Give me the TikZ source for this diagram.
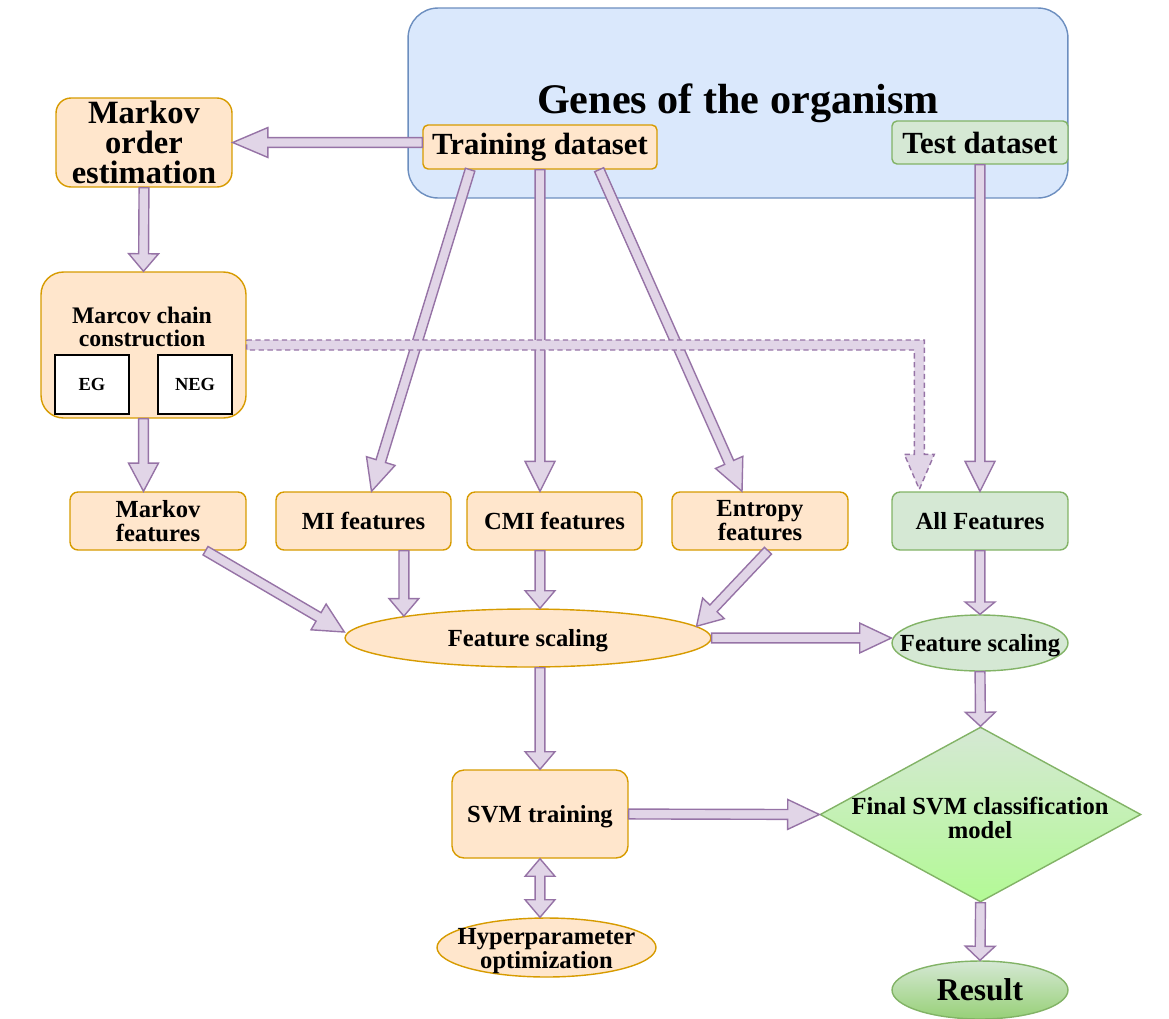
\documentclass[tikz,border=0pt]{standalone}
\usepackage{fontspec}
\setmainfont{Liberation Serif}
\usetikzlibrary{shapes,positioning,calc}

\definecolor{orfill}{HTML}{FFE6CC}
\definecolor{orline}{HTML}{D79B00}
\definecolor{blfill}{HTML}{DAE8FC}
\definecolor{blline}{HTML}{6C8EBF}
\definecolor{grfill}{HTML}{D5E8D4}
\definecolor{grline}{HTML}{82B366}
\definecolor{grbright}{HTML}{B3FA95}
\definecolor{grdark}{HTML}{97D077}
\definecolor{pufill}{HTML}{E1D5E7}
\definecolor{puline}{HTML}{9673A6}

%% hollow block arrow, optional head length
\newcommand{\flexarrow}[3][10pt]{%
\coordinate (fa) at ($(#3)!#1!(#2)$);
\draw[flex] ($(#2)!2.8pt!90:(#3)$) -- ($(fa)!2.8pt!90:(#3)$) -- ($(fa)!8.5pt!90:(#3)$) -- (#3)
 -- ($(fa)!8.5pt!-90:(#3)$) -- ($(fa)!2.8pt!-90:(#3)$) -- ($(#2)!2.8pt!-90:(#3)$) -- cycle;}
%% same, with a head at each end
\newcommand{\flexboth}[3][10pt]{%
\coordinate (fa1) at ($(#2)!#1!(#3)$);
\coordinate (fa2) at ($(#3)!#1!(#2)$);
\draw[flex] (#2) -- ($(fa1)!8.5pt!90:(#3)$) -- ($(fa1)!2.8pt!90:(#3)$) -- ($(fa2)!2.8pt!90:(#3)$) -- ($(fa2)!8.5pt!90:(#3)$) -- (#3)
 -- ($(fa2)!8.5pt!-90:(#3)$) -- ($(fa2)!2.8pt!-90:(#3)$) -- ($(fa1)!2.8pt!-90:(#3)$) -- ($(fa1)!8.5pt!-90:(#3)$) -- cycle;}

\begin{document}
\begin{tikzpicture}
[x=0.02cm, y=-0.02cm,
every node/.style={align=center, inner sep=0pt, line width=0.8pt, font=\bfseries\fontsize{14}{13.6}\selectfont},
orangebox/.style={draw=orline, fill=orfill, rounded corners=0.16cm},
greenbox/.style={draw=grline, fill=grfill, rounded corners=0.16cm},
orangeell/.style={ellipse, draw=orline, fill=orfill},
greenell/.style={ellipse, draw=grline, fill=grfill},
whitebox/.style={draw=black, fill=white, font=\bfseries\fontsize{10.5}{12}\selectfont},
flex/.style={draw=puline, fill=pufill, line width=0.8pt, line join=miter}]
%%
\useasboundingbox (0,0) rectangle (1169,1018);
%%
%% data
\node[draw=blline, fill=blfill, rounded corners=0.6cm, minimum width=13.2cm, minimum height=3.8cm,
 font=\bfseries\fontsize{24}{28}\selectfont] (genes) at (738,103) {Genes of the organism};
\node[orangebox, rounded corners=0.1cm, minimum width=4.68cm, minimum height=0.88cm,
 font=\bfseries\fontsize{17.5}{20}\selectfont] (train) at (540,147) {Training dataset};
\node[greenbox, rounded corners=0.1cm, minimum width=3.52cm, minimum height=0.86cm,
 font=\bfseries\fontsize{17.5}{20}\selectfont] (test) at (980,142.5) {Test dataset};
%%
%% markov part
\node[orangebox, rounded corners=0.3cm, minimum width=3.52cm, minimum height=1.78cm,
 font=\bfseries\fontsize{18.5}{17}\selectfont] (moe) at (144,142.5) {Markov\\order\\estimation};
\node[orangebox, rounded corners=0.45cm, minimum width=4.1cm, minimum height=2.92cm] (mcc) at (143.5,345) {};
\node[font=\bfseries\fontsize{13.5}{13}\selectfont] (mcctext) at (142,327) {Marcov chain\\construction};
\node[whitebox, minimum width=1.48cm, minimum height=1.18cm] (eg) at (92,384.5) {EG};
\node[whitebox, minimum width=1.48cm, minimum height=1.18cm] (neg) at (195,384.5) {NEG};
%%
%% features
\node[orangebox, minimum width=3.52cm, minimum height=1.16cm] (markf) at (158,521) {Markov\\features};
\node[orangebox, minimum width=3.5cm, minimum height=1.16cm] (mif) at (363.5,521) {MI features};
\node[orangebox, minimum width=3.5cm, minimum height=1.16cm] (cmif) at (554.5,521) {CMI features};
\node[orangebox, minimum width=3.52cm, minimum height=1.16cm] (entf) at (760,521) {Entropy\\features};
\node[greenbox, minimum width=3.52cm, minimum height=1.16cm] (allf) at (980,521) {All Features};
%%
\node[orangeell, minimum width=7.32cm, minimum height=1.16cm] (fsl) at (528,638) {};
\node (fsltext) at (528,641) {Feature scaling};
\node[greenell, minimum width=3.52cm, minimum height=1.12cm] (fsr) at (980,643) {};
\node (fsrtext) at (980,646) {Feature scaling};
%%
%% model
\node[orangebox, rounded corners=0.24cm, minimum width=3.52cm, minimum height=1.76cm, text depth=0pt] (svm) at (540,814) {SVM training};
\node[orangeell, minimum width=4.38cm, minimum height=1.18cm] (hyp) at (546.5,947.5) {};
\node (hyptext) at (546.5,951) {Hyperparameter\\optimization};
\node[diamond, draw=grline, top color=grfill, bottom color=grbright, minimum width=6.42cm, minimum height=3.5cm] (final) at (980.5,814.5) {};
\node (finaltext) at (980,818) {Final SVM classification\\model};
\node[ellipse, draw=grline, top color=grfill, bottom color=grdark, minimum width=3.52cm, minimum height=1.16cm,
 font=\bfseries\fontsize{18}{20}\selectfont] (result) at (980,990) {Result};
%%
%% arrows
\coordinate (mitip) at ($(mif.north)+(8,0)$);
\coordinate (enttip) at ($(entf.north)+(-18,0)$);
\coordinate (marktip) at ($(fsl.west)+(0,-6)$);
\coordinate (dend) at ($(allf.north west)+(28,-2)$);
%%
\flexarrow[20pt]{train.west |- moe.east}{moe.east}
\flexarrow{moe.south}{mcc.north}
\flexarrow[16pt]{mcc.south}{mcc.south |- markf.north}
\flexarrow[18pt]{train.198}{mitip}
\flexarrow[17pt]{train.south}{train.south |- cmif.north}
\flexarrow[18pt]{train.-21}{enttip}
\flexarrow[17pt]{test.south}{allf.north}
%%
\flexarrow[17pt]{markf.-32}{marktip}
\flexarrow{mif.south -| fsl.170}{fsl.170}
\flexarrow{cmif.south -| svm.north}{svm.north |- fsl.north}
\flexarrow[14pt]{entf.-75}{fsl.4}
\flexarrow[18pt]{fsl.east}{fsl.east -| fsr.west}
\flexarrow[7pt]{allf.south}{fsr.north}
\flexarrow[8pt]{fsr.south}{final.north}
%%
\flexarrow{fsl.south -| svm.north}{svm.north}
\flexarrow[18pt]{svm.east}{final.west}
\flexboth{svm.south}{svm.south |- hyp.north}
\flexarrow[8pt]{final.south}{result.north}
%%
%% dashed link to all features
\draw[flex, dash pattern=on 3pt off 2pt] ($(mcc.east)+(0,-5)$) -- ($(dend |- mcc.east)+(5,-5)$) -- ($(dend)+(5,-35)$)
 -- ($(dend)+(15,-35)$) -- (dend) -- ($(dend)+(-15,-35)$) -- ($(dend)+(-5,-35)$)
 -- ($(dend |- mcc.east)+(-5,5)$) -- ($(mcc.east)+(0,5)$) -- cycle;
\end{tikzpicture}
\end{document}
